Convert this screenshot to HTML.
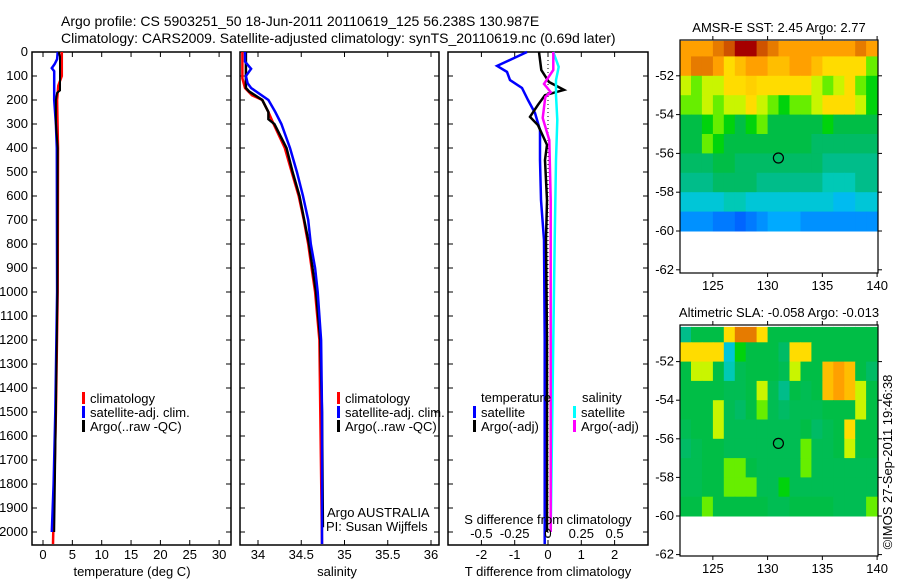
<!DOCTYPE html>
<html><head><meta charset="utf-8"><style>
body{margin:0;background:#fff;}
svg{display:block;font-family:"Liberation Sans",sans-serif;}
</style></head><body>
<svg id="fig" width="900" height="580" xmlns="http://www.w3.org/2000/svg">
<rect x="0" y="0" width="900" height="580" fill="#fff"/>
<text x="61" y="26" font-size="14">Argo profile: CS 5903251_50 18-Jun-2011 20110619_125 56.238S 130.987E</text>
<text x="61" y="43" font-size="14">Climatology: CARS2009. Satellite-adjusted climatology: synTS_20110619.nc (0.69d later)</text>
<g id="g"></g>
</svg>
<script>
// ---------- data ----------
const depthTicks=[0,100,200,300,400,500,600,700,800,900,1000,1100,1200,1300,1400,1500,1600,1700,1800,1900,2000];
const tempTicks=[0,5,10,15,20,25,30];
const salTicks=[34,34.5,35,35.5,36];
const salTickLabels=["34","34.5","35","35.5","36"];
const tdiffTicks=[-2,-1,0,1,2];
const sdiffTicks=[-0.5,-0.25,0,0.25,0.5];
const sdiffTickLabels=["-0.5","-0.25","0","0.25","0.5"];

const tClimDepth=[0,100,140,200,400,1000,1500,2050];
const tClimVal=[3.2,3.2,2.6,2.4,2.55,2.5,2.2,1.7];
const tArgoDepth=[0,20,160,170,200,300,400,1000,1500,2000];
const tArgoVal=[2.7,2.9,2.9,2.4,2.2,2.2,2.5,2.45,2.2,1.9];
const tSatDepth=[0,30,50,67,80,120,200,300,400,1000,1500,1800,2000];
const tSatVal=[2.5,2.4,2.0,1.5,1.9,1.9,1.9,2.2,2.35,2.4,2.1,1.8,1.5];

const sClimDepth=[0,110,150,180,200,250,300,400,500,600,700,800,900,1000,1200,1500,2050];
const sClimVal=[33.82,33.82,33.85,33.93,34.05,34.12,34.18,34.31,34.39,34.47,34.53,34.58,34.62,34.66,34.71,34.72,34.74];
const sArgoDepth=[0,150,165,200,250,280,300,400,500,600,800,1000,1200,1500,1980];
const sArgoVal=[33.86,33.86,33.9,34.05,34.12,34.12,34.19,34.33,34.4,34.48,34.59,34.67,34.72,34.74,34.75];
const sSatDepth=[0,40,70,100,130,150,200,250,300,400,500,600,700,800,900,1000,1200,1500,2050];
const sSatVal=[33.85,33.85,33.92,33.86,33.88,33.92,34.12,34.2,34.27,34.37,34.45,34.52,34.58,34.61,34.66,34.69,34.73,34.74,34.74];

const dTSatDepth=[0,58,83,117,150,200,254,325,450,617,783,1200,1600,2050];
const dTSatVal=[-0.63,-1.53,-1.23,-1.14,-0.78,-0.6,-0.39,-0.24,-0.24,-0.21,-0.12,-0.1,-0.1,-0.1];
const dTArgoDepth=[0,75,125,158,180,220,270,305,387,450,617,783,1200,1600,2000];
const dTArgoVal=[-0.27,-0.2,0.03,0.48,-0.09,-0.3,-0.54,-0.3,-0.03,-0.09,-0.03,-0.06,-0.03,-0.03,-0.03];
const dSSatDepth=[0,62,117,180,283,450,783,1200,1600,2000];
const dSSatVal=[0.04,0.08,0.06,0.06,0.07,0.06,0.05,0.04,0.03,0.02];
const dSArgoDepth=[0,75,133,167,188,275,367,617,783,1200,1600,2000];
const dSArgoVal=[0.04,0.04,-0.03,0.02,-0.02,-0.04,0.01,0.02,0.02,0.02,0.02,0.02];

const mapLons=[122,123,124,125,126,127,128,129,130,131,132,133,134,135,136,137,138,139];
const mapLatTops=[-50.2,-51,-52,-53,-54,-55,-56,-57,-58,-59];
const sstGrid=[
[8,8,8,8.5,9,10,10,9,8.5,8,8,8,8,8,8,8,8.5,8],
[8,8.5,8.5,8,7,7.5,8,8,7.5,7.5,8,8,7.5,7,7,7,7,6],
[6.5,6,6.5,6.5,7,7,7.2,7,7,7,7,7,6.5,6,6.5,7,6,5.5],
[6,6,6.5,6,6.5,6.5,7,6.5,6,5.5,6,6,6.5,7,7,7,6.5,5.5],
[5,5,5.5,6,5.5,5,5.5,6,5,5,5,5,5,5.5,5,5,5,5],
[5,5,6,5.5,5,5,5,5,5,5,5,5,4.5,4.5,4.5,4.5,4.5,4.5],
[4.5,4.5,4.5,5,5,4.5,4.5,4.5,4.5,4.5,4.5,4.5,4.5,4,4,4,4,4],
[4,4,4,4.5,4.5,4.5,4.5,4,4,4,4,4,4,3.5,3.5,3.5,4,4],
[3,3,3,3,3.5,3.5,3,3,3,3,3,3,3,3,2.5,2.5,3,3],
[1.5,1.5,1.5,1,1,0.5,1,1.5,2,2,2,1.5,1.5,1.5,1.5,1.5,1.5,1.5]];
const slaGrid=[
[4,5,5,5,7,8.5,8.5,7,5,5,5,5,5,5,5,5,5,5],
[7,7,7,7,3,5.5,5,5,5,4.5,7,7,5,5,5,5,5,5],
[5,6.5,6.5,5,3.5,4.8,5,5,5,4.8,6.5,5,5,7.5,8,7.5,5,4.5],
[5,5,5,5,4.8,4.8,5,6.5,4.8,4,5,4.8,5,7.5,8,7.5,6.5,5],
[5,5,5,6.5,4.8,4.5,5,6,4.8,4.5,4.8,4.8,4.8,5,5,5,6.5,5],
[4.8,5,5,6.5,4.8,4.8,4.8,4.8,4.8,4.8,4.8,5,4.5,4.8,5,7,5,5],
[4.5,4.8,5,5,4.8,4.8,4.8,4.8,4.8,4.8,4.8,6,4.8,4.8,5,6.5,5,5],
[4.8,4.8,5,5,6,6,5,4.8,4.8,4.8,4.8,6,4.8,4.8,4.8,4.8,4.8,4.8],
[4.8,4.8,5,5,6,6,6,4.8,4.8,5.5,4.8,4.8,4.8,4.8,4.8,4.8,4.8,4.8],
[5,5,6,5,5,5,5,5,4.8,4.8,5,5,5,5,4.8,4.8,4.8,6]];
const mapLatTicks=[-52,-54,-56,-58,-60,-62];
const mapLonTicks=[125,130,135,140];
const argoLon=[130.987], argoLat=[-56.238];

// ---------- helpers ----------
const NS="http://www.w3.org/2000/svg";
const G=document.getElementById('g');
const FS=13;
function mk(tag,attrs,parent){const e=document.createElementNS(NS,tag);for(const k in attrs)e.setAttribute(k,attrs[k]);(parent||G).appendChild(e);return e;}
function txt(s,x,y,anchor,size,parent){const e=mk('text',{x:x,y:y,'text-anchor':anchor||'start','font-size':size||FS},parent);e.textContent=s;return e;}
const yD=d=>52+d*0.24;
const plotTop=52,plotBot=545;

function panel(name,x0,x1){
  const g=mk('g',{});
  
  
  const r=mk('rect',{x:x0,y:plotTop,width:x1-x0,height:plotBot-plotTop,fill:'none',stroke:'#000','stroke-width':1.5},g);
  
  
  depthTicks.forEach(d=>{const y=yD(d);
    mk('line',{x1:x0,x2:x0+5,y1:y,y2:y,stroke:'#000'},g);
    mk('line',{x1:x1-5,x2:x1,y1:y,y2:y,stroke:'#000'},g);});
  return g;
}
function xticks(g,vals,fx){vals.forEach(v=>{const x=fx(v);
  mk('line',{x1:x,x2:x,y1:plotBot,y2:plotBot-5,stroke:'#000'},g);
  mk('line',{x1:x,x2:x,y1:plotTop,y2:plotTop+5,stroke:'#000'},g);});}
function stepLine(g,name,depths,vals,fx,color,w){
  let d='';
  for(let i=0;i<depths.length;i++){const x=fx(vals[i]),y=yD(depths[i]);d+=(i?'L':'M')+x.toFixed(1)+','+y.toFixed(1);}
  const p=mk('path',{d:d,fill:'none',stroke:color,'stroke-width':w||2.5,'stroke-linejoin':'miter'},g);
  
  
}
function legend(g,x,y,items){items.forEach((it,i)=>{const yy=y+i*14;
  mk('rect',{x:x,y:yy-10,width:3,height:12,fill:it[1]},g);
  const t=txt(it[0],x+8,yy+1,'start',FS,g);
  
  });}

// ---------- temperature panel ----------
const xT=t=>43+t*5.87;
const p1=panel('temperature-panel',32,231);
xticks(p1,tempTicks,xT);
tempTicks.forEach(t=>txt(String(t),xT(t),559,'middle',FS,p1));
depthTicks.forEach(d=>txt(String(d),28,yD(d)+4,'end',FS,p1));
stepLine(p1,'temp-climatology',tClimDepth,tClimVal,xT,'#f00',2.5);
stepLine(p1,'temp-satellite',tSatDepth,tSatVal,xT,'#00f',2.5);
stepLine(p1,'temp-argo',tArgoDepth,tArgoVal,xT,'#000',2);
legend(p1,82,402,[['climatology','#f00'],['satellite-adj. clim.','#00f'],['Argo(..raw -QC)','#000']]);
txt('temperature (deg C)',132,576,'middle',FS,p1);

// ---------- salinity panel ----------
const xS=s=>258+(s-34)*86.5;
const p2=panel('salinity-panel',240,439);
xticks(p2,salTicks,xS);
salTicks.forEach((s,i)=>txt(salTickLabels[i],xS(s),559,'middle',FS,p2));
stepLine(p2,'sal-climatology',sClimDepth,sClimVal,xS,'#f00',2.5);
stepLine(p2,'sal-argo',sArgoDepth,sArgoVal,xS,'#000',2.5);
stepLine(p2,'sal-satellite',sSatDepth,sSatVal,xS,'#00f',2.5);
legend(p2,337,402,[['climatology','#f00'],['satellite-adj. clim.','#00f'],['Argo(..raw -QC)','#000']]);
txt('Argo AUSTRALIA',327,517,'start',FS,p2);
txt('PI: Susan Wijffels',326,531,'start',FS,p2);
txt('salinity',337,576,'middle',FS,p2);

// ---------- difference panel ----------
const xdT=v=>548+v*33.3;
const xdS=v=>548+v*133.2;
const p3=panel('difference-panel',448,648);
xticks(p3,tdiffTicks,xdT);
tdiffTicks.forEach(v=>txt(String(v),xdT(v),559,'middle',FS,p3));
mk('line',{x1:xdT(0),x2:xdT(0),y1:plotTop,y2:plotBot,stroke:'#000','stroke-dasharray':'1,3'},p3);
stepLine(p3,'tdiff-satellite',dTSatDepth,dTSatVal,xdT,'#00f',2.5);
stepLine(p3,'tdiff-argo',dTArgoDepth,dTArgoVal,xdT,'#000',2.5);
stepLine(p3,'sdiff-satellite',dSSatDepth,dSSatVal,xdS,'#0ff',2.5);
stepLine(p3,'sdiff-argo',dSArgoDepth,dSArgoVal,xdS,'#f0f',2.5);
txt('temperature',481,402,'start',FS,p3);
txt('salinity',582,402,'start',FS,p3);
legend(p3,473,416,[['satellite','#00f'],['Argo(-adj)','#000']]);
legend(p3,573,416,[['satellite','#0ff'],['Argo(-adj)','#f0f']]);
txt('S difference from climatology',548,524,'middle',FS,p3);
sdiffTicks.forEach((v,i)=>txt(sdiffTickLabels[i],xdS(v),538,'middle',FS,p3));
txt('T difference from climatology',548,576,'middle',FS,p3);

// ---------- maps ----------
const stops=[[0,[0,80,255]],[0.12,[0,130,255]],[0.22,[0,180,255]],[0.33,[0,205,200]],[0.42,[0,185,120]],[0.5,[0,190,70]],[0.56,[0,215,0]],[0.63,[180,255,0]],[0.7,[255,220,0]],[0.8,[255,160,0]],[0.88,[215,100,0]],[1,[165,0,0]]];
function cmap(v){v=Math.max(0,Math.min(1,v));for(let i=1;i<stops.length;i++){if(v<=stops[i][0]){const a=stops[i-1],b=stops[i],t=(v-a[0])/(b[0]-a[0]);const c=a[1].map((x,k)=>Math.round(x+(b[1][k]-x)*t));return 'rgb('+c.join(',')+')';}}return 'rgb(165,0,0)';}
function drawMap(name,title,grid,yTop60,yScale,boxTop,boxBot,titleY){
  const g=mk('g',{});
  
  
  const mx=lon=>680+(lon-122)*10.95;
  const my=lat=>yTop60-(lat+60)*yScale;
  grid.forEach((row,r)=>{const la0=mapLatTops[r],la1=(r+1<mapLatTops.length?mapLatTops[r+1]:-60);
    row.forEach((v,c)=>{const x=mx(mapLons[c]),w=mx(mapLons[c]+1)-x+0.5;
      mk('rect',{x:x.toFixed(1),y:my(la0).toFixed(1),width:w.toFixed(1),height:(my(la1)-my(la0)+0.5).toFixed(1),fill:cmap(v/10)},g);});});
  const fr=mk('rect',{x:680,y:boxTop,width:198,height:boxBot-boxTop,fill:'none',stroke:'#000','stroke-width':1.2},g);
  
  
  mapLatTicks.forEach(l=>{const y=my(l);
    mk('line',{x1:680,x2:676,y1:y,y2:y,stroke:'#000'},g);
    mk('line',{x1:878,x2:882,y1:y,y2:y,stroke:'#000'},g);
    txt(String(l),674,y+4,'end',FS,g);});
  mapLonTicks.forEach(l=>{const x=mx(l);
    mk('line',{x1:x,x2:x,y1:boxBot,y2:boxBot+4,stroke:'#000'},g);
    mk('line',{x1:x,x2:x,y1:boxTop,y2:boxTop-4,stroke:'#000'},g);
    txt(String(l),x,boxBot+17,'middle',FS,g);});
  const c=mk('circle',{cx:mx(argoLon[0]),cy:my(argoLat[0]),r:5,fill:'none',stroke:'#000','stroke-width':1.2},g);
  
  
  const t=txt(title,779,titleY,'middle',FS,g);
  
  
}
drawMap('sst-map','AMSR-E SST: 2.45 Argo: 2.77',sstGrid,231,19.4,40,273,32);
drawMap('sla-map','Altimetric SLA: -0.058 Argo: -0.013',slaGrid,516,19.3,325,556,317);
const cr=txt('\u00a9IMOS 27-Sep-2011 19:46:38',0,0,'middle',FS);
cr.setAttribute('transform','translate(892,462) rotate(-90)');


</script>
</body></html>
